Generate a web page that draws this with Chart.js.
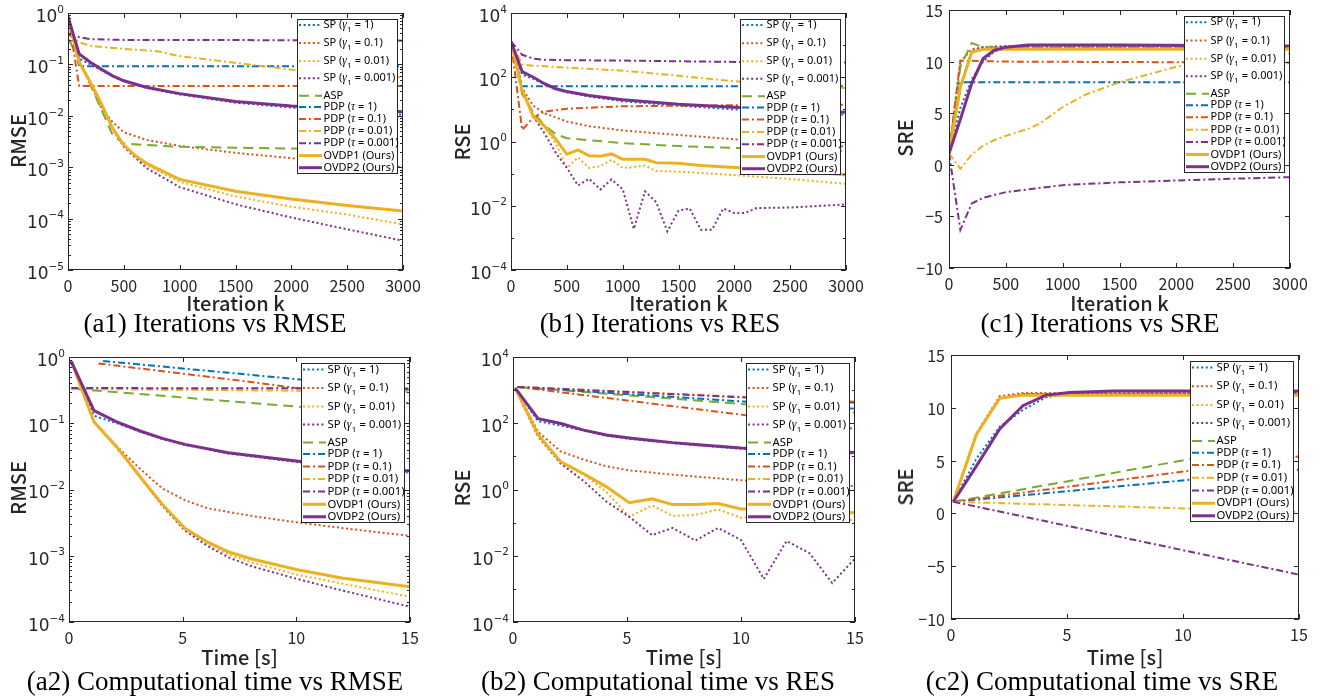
<!DOCTYPE html>
<html>
<head>
<meta charset="utf-8">
<script src="https://cdn.jsdelivr.net/npm/chart.js@4.4.1/dist/chart.umd.min.js"></script>
<style>
  html, body { margin: 0; padding: 0; background: #fff; }
  #page { position: relative; width: 1327px; height: 698px; overflow: hidden; background: #fff; }
  #page canvas { position: absolute; left: 0; top: 0; }
  .t { position: absolute; white-space: nowrap; line-height: 1; transform: translate(-50%, -50%); }
  .ax { font-family: "Noto Sans CJK JP", "Noto Sans", sans-serif; font-size: 20px; font-weight: 500; color: #262626; }
  .yl { transform: translate(-50%, -50%) rotate(-90deg); }
  .cap { font-family: "Liberation Serif", "Times New Roman", serif; font-size: 27px; color: #000; }
</style>
</head>
<body>
<div id="page"></div>
<script>
// ---------- shared labels and ticks ----------
const seriesNames = [
  'SP (γ₁ = 1)', 'SP (γ₁ = 0.1)', 'SP (γ₁ = 0.01)', 'SP (γ₁ = 0.001)',
  'ASP',
  'PDP (τ = 1)', 'PDP (τ = 0.1)', 'PDP (τ = 0.01)', 'PDP (τ = 0.001)',
  'OVDP1 (Ours)', 'OVDP2 (Ours)'
];
const iterTicks = [0, 500, 1000, 1500, 2000, 2500, 3000];
const timeTicks = [0, 5, 10, 15];
const rmseIterExp = [-5, -4, -3, -2, -1, 0];
const rmseTimeExp = [-4, -3, -2, -1, 0];
const rseExp = [-4, -2, 0, 2, 4];
const sreTicks = [-10, -5, 0, 5, 10, 15];

// ---------- (a1) RMSE vs iteration k ----------
const a1_sp1    = [[0,0.9],[100,0.13],[200,0.1],[300,0.077],[400,0.059],[500,0.047],[700,0.035],[1000,0.026],[1500,0.018],[2000,0.0145],[2500,0.012],[3000,0.0105]];
const a1_sp01   = [[0,0.9],[100,0.11],[200,0.042],[300,0.014],[400,0.0075],[500,0.0048],[700,0.0034],[1000,0.0026],[1500,0.0019],[2000,0.0015],[2500,0.00125],[3000,0.001]];
const a1_sp001  = [[0,0.88],[100,0.115],[200,0.044],[300,0.016],[400,0.0056],[500,0.0026],[700,0.0011],[1000,0.00052],[1500,0.00027],[2000,0.00017],[2500,0.00012],[3000,0.000077]];
const a1_sp0001 = [[0,0.88],[100,0.115],[200,0.044],[300,0.016],[400,0.0055],[500,0.0025],[700,0.00097],[1000,0.00041],[1500,0.00019],[2000,0.000105],[2500,0.000062],[3000,0.000037]];
const a1_asp    = [[0,0.32],[100,0.13],[200,0.04],[300,0.013],[400,0.0042],[500,0.0029],[700,0.0027],[1000,0.0025],[1500,0.0024],[2000,0.0023],[2500,0.0022],[3000,0.0021]];
const a1_pdp1   = [[0,0.9],[100,0.092],[3000,0.092]];
const a1_pdp01  = [[0,0.9],[100,0.038],[3000,0.038]];
const a1_pdp001 = [[0,0.38],[100,0.27],[200,0.23],[500,0.2],[800,0.18],[1000,0.145],[1500,0.107],[2000,0.079],[2500,0.065],[3000,0.056]];
const a1_pdp0001= [[0,0.38],[100,0.34],[200,0.31],[500,0.3],[1000,0.3],[2000,0.295],[3000,0.29]];
const a1_ovdp1  = [[0,0.86],[100,0.11],[200,0.045],[300,0.017],[400,0.0057],[500,0.0027],[600,0.0017],[700,0.0012],[1000,0.00058],[1500,0.00034],[2000,0.00024],[2500,0.00018],[3000,0.00014]];
const a1_ovdp2  = [[0,0.85],[100,0.16],[200,0.11],[300,0.08],[400,0.06],[500,0.048],[700,0.036],[1000,0.027],[1500,0.019],[2000,0.0155],[2500,0.0135],[3000,0.012]];

// ---------- (b1) RSE vs iteration k ----------
const b1_sp1    = [[0,1300],[100,120],[200,90],[300,60],[400,42],[500,34],[700,25],[1000,18],[1500,13],[2000,10],[2500,8.5],[3000,6.8]];
const b1_sp01   = [[0,1300],[100,45],[200,13],[300,7.5],[500,4.2],[700,3.0],[1000,2.2],[1500,1.6],[2000,1.17],[2500,0.9],[3000,0.69]];
const b1_sp001  = [[0,1300],[100,40],[200,6.5],[300,2.8],[400,0.9],[500,0.15],[600,0.32],[700,0.15],[800,0.17],[900,0.27],[1000,0.15],[1100,0.16],[1200,0.18],[1300,0.12],[1500,0.115],[1700,0.105],[2000,0.09],[2500,0.068],[3000,0.048]];
const b1_sp0001 = [[0,1300],[100,40],[200,6],[300,1.8],[400,0.45],[500,0.15],[600,0.043],[700,0.069],[800,0.032],[900,0.066],[1000,0.033],[1100,0.0019],[1200,0.028],[1300,0.013],[1400,0.0016],[1500,0.007],[1600,0.0083],[1700,0.0018],[1800,0.0018],[1900,0.0082],[2000,0.0059],[2100,0.006],[2200,0.0085],[2500,0.0088],[3000,0.011]];
const b1_asp    = [[0,1300],[100,30],[200,8],[300,3.2],[400,1.7],[500,1.26],[1000,0.89],[1500,0.72],[2000,0.63],[2500,0.55],[3000,0.49]];
const b1_pdp1   = [[0,1300],[100,52],[3000,52]];
const b1_pdp01  = [[0,1300],[100,2.3],[200,5.5],[300,8.5],[500,10.5],[1000,12.5],[2000,13.5],[3000,14]];
const b1_pdp001 = [[0,1300],[100,250],[200,230],[500,200],[1000,160],[1500,112],[2000,75],[2500,58],[3000,46]];
const b1_pdp0001= [[0,1300],[100,500],[200,380],[300,350],[500,340],[1000,330],[2000,300],[3000,290]];
const b1_ovdp1  = [[0,1300],[100,40],[200,6],[300,3],[400,1.2],[500,0.4],[600,0.55],[700,0.36],[800,0.35],[900,0.41],[1000,0.28],[1100,0.28],[1200,0.28],[1300,0.22],[1500,0.21],[1700,0.18],[2000,0.155],[2500,0.12],[3000,0.092]];
const b1_ovdp2  = [[0,1300],[100,150],[200,100],[300,63],[400,44],[500,36],[700,27],[1000,20],[1500,14.5],[2000,11.7],[2500,9.8],[3000,8.2]];

// ---------- (c1) SRE vs iteration k ----------
const c1_sp1    = [[0,1.1],[100,5.5],[200,8.3],[300,10.0],[400,11.0],[500,11.3],[700,11.4],[3000,11.4]];
const c1_sp01   = [[0,1.1],[100,10.0],[200,11.2],[300,11.4],[3000,11.4]];
const c1_sp001  = [[0,1.1],[100,7.6],[200,11.0],[300,11.3],[3000,11.3]];
const c1_sp0001 = [[0,1.1],[100,7.5],[200,11.0],[300,11.4],[500,11.5],[3000,11.5]];
const c1_asp    = [[0,1.1],[100,9.5],[200,11.8],[300,11.4],[3000,11.4]];
const c1_pdp1   = [[0,1.1],[100,8.0],[3000,8.0]];
const c1_pdp01  = [[0,1.1],[100,10.1],[500,10.0],[3000,9.9]];
const c1_pdp001 = [[0,1.1],[100,-0.4],[200,1.0],[300,1.85],[400,2.4],[500,2.8],[700,3.5],[800,4.0],[1000,5.6],[1200,6.8],[1500,8.0],[2000,9.5],[2500,10.3],[3000,10.8]];
const c1_pdp0001= [[0,1.1],[100,-6.3],[200,-3.75],[300,-3.2],[500,-2.65],[1000,-1.97],[1500,-1.7],[2000,-1.52],[2500,-1.35],[3000,-1.2]];
const c1_ovdp1  = [[0,1.1],[100,7.5],[200,10.9],[300,11.2],[3000,11.2]];
const c1_ovdp2  = [[0,1.1],[100,4.4],[200,7.9],[300,10.3],[400,11.1],[500,11.4],[700,11.6],[1500,11.6],[3000,11.5]];

// ---------- (a2) RMSE vs time [s] ----------
const a2_sp1    = [[0.1,0.86],[1.1,0.13],[2.1,0.1],[3.1,0.075],[4.1,0.058],[5.1,0.047],[7,0.035],[10,0.026],[12,0.022],[15,0.018]];
const a2_sp01   = [[0.1,0.86],[1.1,0.105],[2.1,0.045],[3.1,0.021],[4.1,0.0104],[5.1,0.0069],[6.1,0.0052],[8,0.004],[10,0.0032],[12.5,0.0025],[15,0.002]];
const a2_sp001  = [[0.1,0.86],[1.1,0.105],[2.1,0.043],[3.1,0.016],[4.1,0.0058],[5.1,0.0025],[6.1,0.0015],[7,0.00105],[8,0.0008],[10,0.00052],[12,0.00038],[15,0.00024]];
const a2_sp0001 = [[0.1,0.86],[1.1,0.105],[2.1,0.043],[3.1,0.016],[4.1,0.0057],[5.1,0.0024],[6.1,0.0014],[7,0.00095],[8,0.0007],[10,0.00045],[12,0.0003],[15,0.00017]];
const a2_asp    = [[0.3,0.33],[15,0.13]];
const a2_pdp1   = [[1.5,0.87],[15,0.32]];
const a2_pdp01  = [[1.3,0.8],[8,0.42],[15,0.2]];
const a2_pdp001 = [[0.1,0.33],[15,0.3]];
const a2_pdp0001= [[0.1,0.34],[15,0.335]];
const a2_ovdp1  = [[0.1,0.86],[1.1,0.105],[2.1,0.044],[3.1,0.016],[4.1,0.006],[5.1,0.0026],[6.1,0.0016],[7,0.00115],[8,0.0009],[10,0.00062],[12,0.00046],[15,0.00034]];
const a2_ovdp2  = [[0.1,0.86],[1.1,0.155],[2.1,0.105],[3.1,0.077],[4.1,0.059],[5.1,0.048],[7,0.036],[10,0.027],[12,0.023],[15,0.019]];

// ---------- (b2) RSE vs time [s] ----------
const b2_sp1    = [[0.1,1150],[1.1,115],[2.1,85],[3.1,60],[4.1,42],[5.1,34],[7,25],[10,17],[15,12]];
const b2_sp01   = [[0.1,1150],[1.1,55],[2.1,14],[3.1,8],[4.1,5],[5.1,3.8],[7,2.8],[10,1.9],[12,1.6],[15,1.26]];
const b2_sp001  = [[0.1,1150],[1.1,40],[2.1,6.5],[3.1,2.8],[4.1,0.85],[5.1,0.15],[6.1,0.33],[7,0.16],[8,0.17],[9,0.25],[10,0.14],[11,0.15],[12,0.18],[13,0.13],[15,0.12]];
const b2_sp0001 = [[0.1,1150],[1.1,40],[2.1,6],[3.1,1.8],[4.1,0.43],[5.1,0.15],[6.1,0.042],[7,0.069],[8,0.029],[9,0.069],[10,0.03],[11,0.002],[12,0.028],[13,0.012],[14,0.0015],[15,0.0083]];
const b2_asp    = [[0.2,1250],[15,210]];
const b2_pdp1   = [[0.2,1250],[15,275]];
const b2_pdp01  = [[0.2,1250],[15,68]];
const b2_pdp001 = [[0.2,1250],[15,450]];
const b2_pdp0001= [[0.2,1250],[15,420]];
const b2_ovdp1  = [[0.1,1150],[1.1,45],[2.1,6.8],[3.1,3.0],[4.1,1.2],[5.1,0.4],[6.1,0.52],[7,0.35],[8,0.35],[9,0.38],[10,0.26],[11,0.26],[12,0.26],[13,0.22],[15,0.2]];
const b2_ovdp2  = [[0.1,1150],[1.1,138],[2.1,98],[3.1,62],[4.1,44],[5.1,36],[6.1,30],[7,26],[8,23],[10,18],[12,15.5],[15,13]];

// ---------- (c2) SRE vs time [s] ----------
const c2_sp1    = [[0.1,1.1],[1.1,5.2],[2.1,8.2],[3.1,9.8],[4.1,11.0],[5.1,11.3],[15,11.4]];
const c2_sp01   = [[0.1,1.1],[1.1,7.6],[2.1,11.1],[3.1,11.4],[15,11.4]];
const c2_sp001  = [[0.1,1.1],[1.1,7.5],[2.1,10.9],[3.1,11.3],[15,11.3]];
const c2_sp0001 = [[0.1,1.1],[1.1,7.5],[2.1,10.9],[3.1,11.3],[15,11.4]];
const c2_asp    = [[0.1,1.1],[15,7.0]];
const c2_pdp1   = [[0.1,1.1],[15,4.15]];
const c2_pdp01  = [[0.1,1.1],[15,5.4]];
const c2_pdp001 = [[0.1,1.1],[15,0.16]];
const c2_pdp0001= [[0.1,1.1],[15,-5.8]];
const c2_ovdp1  = [[0.1,1.1],[1.1,7.5],[2.1,10.9],[3.1,11.2],[15,11.2]];
const c2_ovdp2  = [[0.1,1.1],[1.1,4.5],[2.1,8.0],[3.1,10.2],[4.1,11.2],[5.1,11.45],[7,11.6],[15,11.6]];

// ---------- line styles (MATLAB default palette) ----------
const BLUE = '#0072BD', ORANGE = '#D95319', YELLOW = '#EDB120', PURPLE = '#7E2F8E', GREEN = '#77AC30';
const seriesColors = [BLUE, ORANGE, YELLOW, PURPLE, GREEN, BLUE, ORANGE, YELLOW, PURPLE, YELLOW, PURPLE];
const DOT = [2, 2.6], DASH = [10, 6], DASHDOT = [7, 3, 2, 3], SOLID = [];
const seriesDash = [DOT, DOT, DOT, DOT, DASH, DASHDOT, DASHDOT, DASHDOT, DASHDOT, SOLID, SOLID];
const seriesWidth = [2, 2, 2, 2, 2, 2, 2, 2, 2, 3, 3];

const AX = '#262626';
const TICK_FONT = '"Noto Sans CJK JP", "Noto Sans", sans-serif';
const LEG_FONT = '"Noto Sans", "Noto Sans CJK JP", sans-serif';

// text with a leading minus sign drawn as a proper minus glyph
function tickText(ctx, s, x, y, align, size) {
  ctx.textBaseline = 'middle';
  const neg = s.startsWith('-');
  const body = neg ? s.slice(1) : s;
  ctx.font = size + 'px ' + TICK_FONT;
  const wb = ctx.measureText(body).width;
  ctx.font = size + 'px "Noto Sans", sans-serif';
  const wm = neg ? ctx.measureText('\u2212').width : 0;
  const w = wb + wm;
  let x0 = align === 'right' ? x - w : align === 'center' ? x - w / 2 : x;
  ctx.textAlign = 'left';
  if (neg) { ctx.fillText('\u2212', x0, y); x0 += wm; }
  ctx.font = size + 'px ' + TICK_FONT;
  ctx.fillText(body, x0, y);
}

// "10" with a raised exponent
function powText(ctx, e, xRight, py) {
  const sup = e < 0 ? '\u2212' + (-e) : String(e);
  ctx.textAlign = 'left'; ctx.textBaseline = 'middle';
  ctx.font = '10.5px "DejaVu Sans", sans-serif';
  const ws = ctx.measureText(sup).width;
  ctx.font = '17px "DejaVu Sans", sans-serif';
  const wb = ctx.measureText('10').width;
  ctx.fillText('10', xRight - ws - wb, py + 4.5);
  ctx.font = '10.5px "DejaVu Sans", sans-serif';
  ctx.fillText(sup, xRight - ws, py - 3);
}

// legend entry: plain text with italic greek symbol and optional subscript
function legendText(ctx, text, x, y, fs) {
  ctx.fillStyle = '#000'; ctx.textAlign = 'left'; ctx.textBaseline = 'middle';
  const sans = fs + 'px ' + LEG_FONT;
  const m = text.match(/^(.*?)([γτ])(₁?)(.*)$/);
  ctx.font = sans;
  if (!m) { ctx.fillText(text, x, y); return; }
  ctx.fillText(m[1], x, y); x += ctx.measureText(m[1]).width;
  ctx.font = 'italic ' + (fs + 0.5) + 'px "Liberation Serif", serif';
  ctx.fillText(m[2], x, y); x += ctx.measureText(m[2]).width;
  if (m[3]) {
    ctx.font = (fs * 0.7) + 'px ' + LEG_FONT;
    ctx.fillText('1', x + 0.3, y + fs * 0.45);
    x += ctx.measureText('1').width + 0.6;
  }
  ctx.font = sans;
  ctx.fillText(m[4], x, y);
}

// rows of the legend box (offset from its top edge for a box 154 px tall)
const LEG_ROWS = [6, 24, 42, 59.3, 76.7, 87.9, 99.9, 112.1, 124.3, 136.6, 148.7];

const axesPlugin = {
  id: 'axesFrame',
  afterDraw(chart, args, o) {
    const { ctx, chartArea: a } = chart;
    const xs = chart.scales.x, ys = chart.scales.y;
    const L = a.left, R = a.right, T = a.top, B = a.bottom;
    ctx.save();
    ctx.setLineDash([]);
    ctx.strokeStyle = AX; ctx.lineWidth = 1;
    ctx.strokeRect(L + 0.5, T + 0.5, R - L - 1, B - T - 1);

    const yMajor = o.logExp ? o.logExp.map(e => Math.pow(10, e)) : o.yTicks;
    const MAJ = 5, MIN = 3;
    ctx.beginPath();
    o.xTicks.forEach(v => {
      const px = Math.round(xs.getPixelForValue(v)) + 0.5;
      ctx.moveTo(px, B); ctx.lineTo(px, B - MAJ);
      ctx.moveTo(px, T); ctx.lineTo(px, T + MAJ);
    });
    yMajor.forEach(v => {
      const py = Math.round(ys.getPixelForValue(v)) + 0.5;
      ctx.moveTo(L, py); ctx.lineTo(L + MAJ, py);
      ctx.moveTo(R, py); ctx.lineTo(R - MAJ, py);
    });
    if (o.logExp) {
      const e0 = o.logExp[0], e1 = o.logExp[o.logExp.length - 1];
      for (let e = e0; e < e1; e++) {
        const mults = o.logStep === 2 ? (((e - e0) % 2 === 1) ? [1] : []) : [2, 3, 4, 5, 6, 7, 8, 9];
        mults.forEach(mu => {
          const py = Math.round(ys.getPixelForValue(mu * Math.pow(10, e))) + 0.5;
          ctx.moveTo(L, py); ctx.lineTo(L + MIN, py);
          ctx.moveTo(R, py); ctx.lineTo(R - MIN, py);
        });
      }
    }
    ctx.stroke();

    // tick labels
    ctx.fillStyle = AX;
    o.xTicks.forEach(v => tickText(ctx, String(v), xs.getPixelForValue(v), B + 15.5, 'center', 16));
    if (o.logExp) {
      o.logExp.forEach(e => powText(ctx, e, L - 4, ys.getPixelForValue(Math.pow(10, e))));
    } else {
      o.yTicks.forEach(v => tickText(ctx, String(v), L - 6, ys.getPixelForValue(v) + 1, 'right', 16));
    }

    // legend
    const bw = o.legW, bh = o.legH;
    const bx = Math.round(R - 6 - bw), by = Math.round(T + 6);
    ctx.fillStyle = '#fff';
    ctx.fillRect(bx, by, bw, bh);
    ctx.strokeStyle = AX; ctx.lineWidth = 1;
    ctx.strokeRect(bx + 0.5, by + 0.5, bw, bh);
    const s = bh / 154;
    chart.data.datasets.forEach((ds, i) => {
      const yy = by + LEG_ROWS[i] * s + (s - 1) * 8;
      ctx.save();
      ctx.strokeStyle = ds.borderColor; ctx.lineWidth = ds.borderWidth;
      ctx.setLineDash(ds.borderDash || []);
      ctx.beginPath(); ctx.moveTo(bx + 2, yy); ctx.lineTo(bx + 25, yy); ctx.stroke();
      ctx.restore();
      legendText(ctx, ds.label, bx + 26.5, yy, o.legFont);
    });
    ctx.restore();
  }
};

const W = 1327, H = 698;
const panels = [
  { plot: [68, 13, 403, 270], x: [0, 3000], xTicks: iterTicks, y: [1e-5, 1], logExp: rmseIterExp, logStep: 1,
    series: [a1_sp1, a1_sp01, a1_sp001, a1_sp0001, a1_asp, a1_pdp1, a1_pdp01, a1_pdp001, a1_pdp0001, a1_ovdp1, a1_ovdp2],
    legW: 100, legH: 154, legFont: 11,
    xTitle: ['Iteration k', 235.5, 302.5], yTitle: ['RMSE', 17.5, 141], caption: ['(a1) Iterations vs RMSE', 215, 322.5] },
  { plot: [511, 13, 846, 270], x: [0, 3000], xTicks: iterTicks, y: [1e-4, 1e4], logExp: rseExp, logStep: 2,
    series: [b1_sp1, b1_sp01, b1_sp001, b1_sp0001, b1_asp, b1_pdp1, b1_pdp01, b1_pdp001, b1_pdp0001, b1_ovdp1, b1_ovdp2],
    legW: 100, legH: 155, legFont: 11,
    xTitle: ['Iteration k', 678.5, 302.5], yTitle: ['RSE', 462, 141.5], caption: ['(b1) Iterations vs RES', 660, 322.5] },
  { plot: [949, 10, 1290, 268], x: [0, 3000], xTicks: iterTicks, y: [-10, 15], yTicks: sreTicks,
    series: [c1_sp1, c1_sp01, c1_sp001, c1_sp0001, c1_asp, c1_pdp1, c1_pdp01, c1_pdp001, c1_pdp0001, c1_ovdp1, c1_ovdp2],
    legW: 100, legH: 156, legFont: 11,
    xTitle: ['Iteration k', 1119.5, 302.5], yTitle: ['SRE', 905, 138], caption: ['(c1) Iterations vs SRE', 1100, 322.5] },
  { plot: [69, 357, 410, 622], x: [0, 15], xTicks: timeTicks, y: [1e-4, 1], logExp: rmseTimeExp, logStep: 1,
    series: [a2_sp1, a2_sp01, a2_sp001, a2_sp0001, a2_asp, a2_pdp1, a2_pdp01, a2_pdp001, a2_pdp0001, a2_ovdp1, a2_ovdp2],
    legW: 103, legH: 159, legFont: 11.3,
    xTitle: ['Time [s]', 239.5, 656.5], yTitle: ['RMSE', 17.5, 488], caption: ['(a2) Computational time vs RMSE', 215, 681] },
  { plot: [513, 357, 855, 622], x: [0, 15], xTicks: timeTicks, y: [1e-4, 1e4], logExp: rseExp, logStep: 2,
    series: [b2_sp1, b2_sp01, b2_sp001, b2_sp0001, b2_asp, b2_pdp1, b2_pdp01, b2_pdp001, b2_pdp0001, b2_ovdp1, b2_ovdp2],
    legW: 103, legH: 159, legFont: 11.3,
    xTitle: ['Time [s]', 684, 656.5], yTitle: ['RSE', 462, 488], caption: ['(b2) Computational time vs RES', 658, 681] },
  { plot: [951, 355, 1299, 619], x: [0, 15], xTicks: timeTicks, y: [-10, 15], yTicks: sreTicks,
    series: [c2_sp1, c2_sp01, c2_sp001, c2_sp0001, c2_asp, c2_pdp1, c2_pdp01, c2_pdp001, c2_pdp0001, c2_ovdp1, c2_ovdp2],
    legW: 103, legH: 160, legFont: 11.3,
    xTitle: ['Time [s]', 1125, 656.5], yTitle: ['SRE', 905, 487], caption: ['(c2) Computational time vs SRE', 1102, 681] }
];

const page = document.getElementById('page');

function addText(cls, text, x, y) {
  const d = document.createElement('div');
  d.className = 't ' + cls;
  d.textContent = text;
  d.style.left = x + 'px';
  d.style.top = y + 'px';
  page.appendChild(d);
}

panels.forEach(p => {
  const cv = document.createElement('canvas');
  cv.width = W; cv.height = H;
  page.appendChild(cv);
  const [L, T, R, B] = p.plot;
  const datasets = p.series.map((arr, i) => ({
    label: seriesNames[i],
    data: arr.map(([x, y]) => ({ x, y })),
    borderColor: seriesColors[i],
    borderDash: seriesDash[i],
    borderWidth: seriesWidth[i],
    pointRadius: 0,
    tension: 0,
    fill: false,
    order: seriesNames.length - i
  }));
  new Chart(cv, {
    type: 'line',
    data: { datasets },
    options: {
      responsive: false,
      animation: false,
      events: [],
      layout: { padding: { left: L, top: T, right: W - R, bottom: H - B } },
      scales: {
        x: { type: 'linear', min: p.x[0], max: p.x[1], display: false },
        y: { type: p.logExp ? 'logarithmic' : 'linear', min: p.y[0], max: p.y[1], display: false }
      },
      plugins: {
        legend: { display: false },
        tooltip: { enabled: false },
        axesFrame: { xTicks: p.xTicks, yTicks: p.yTicks, logExp: p.logExp, logStep: p.logStep,
                     legW: p.legW, legH: p.legH, legFont: p.legFont }
      }
    },
    plugins: [axesPlugin]
  });
  addText('ax', p.xTitle[0], p.xTitle[1], p.xTitle[2]);
  addText('ax yl', p.yTitle[0], p.yTitle[1], p.yTitle[2]);
  addText('cap', p.caption[0], p.caption[1], p.caption[2]);
});
</script>
</body>
</html>
